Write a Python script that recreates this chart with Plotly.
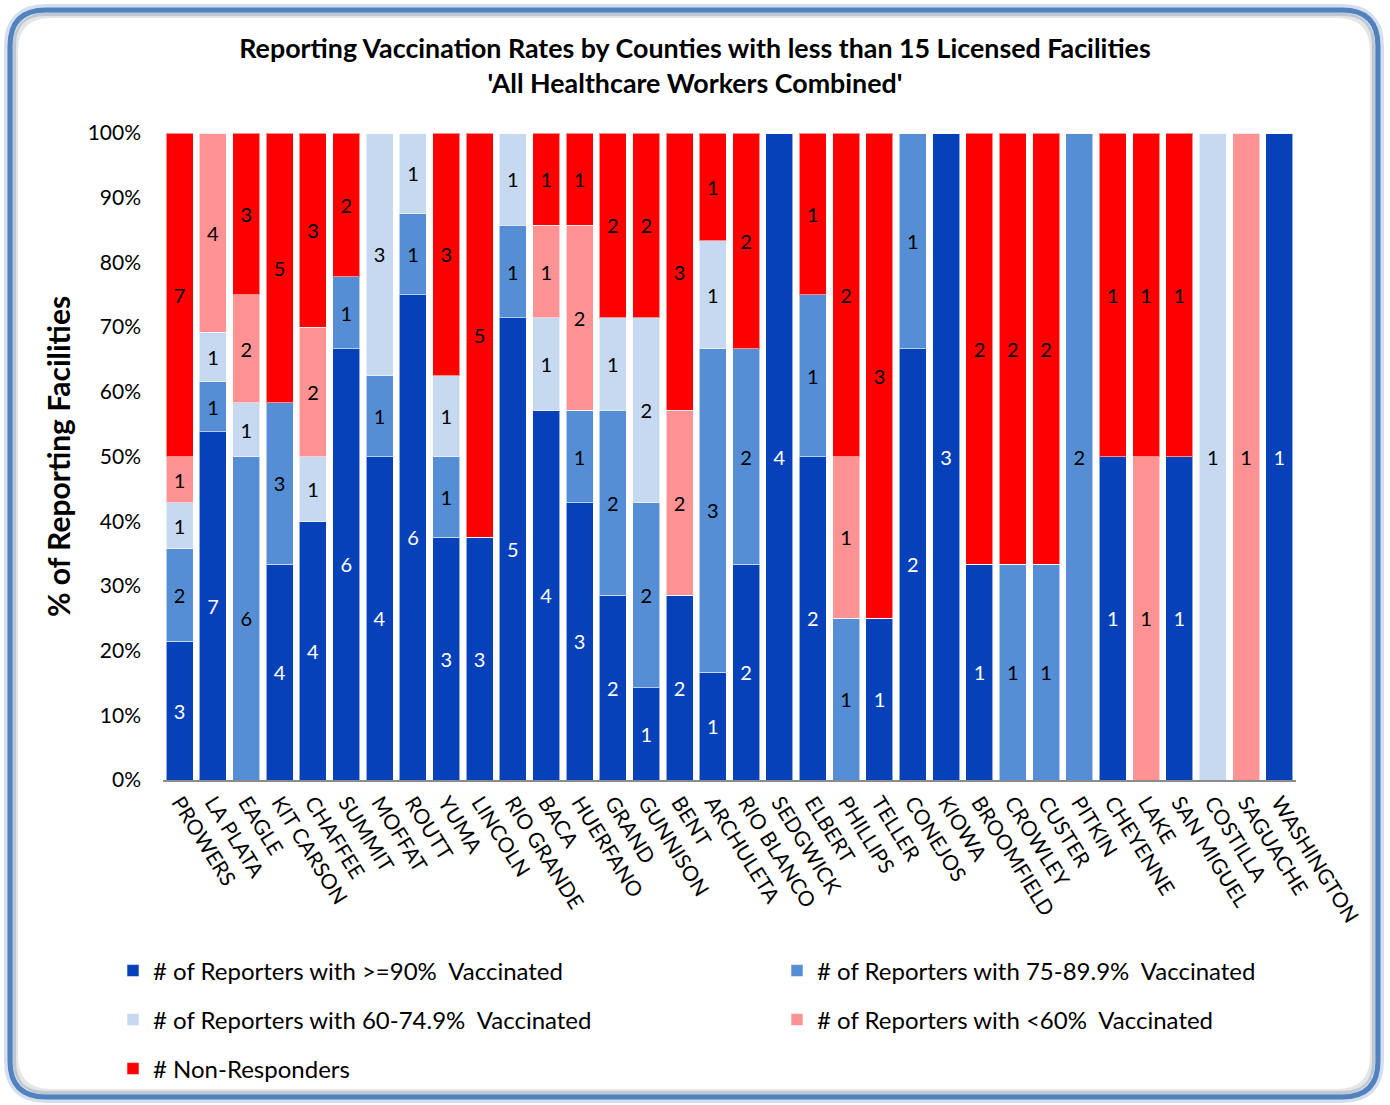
import plotly.graph_objects as go

counties = ["PROWERS", "LA PLATA", "EAGLE", "KIT CARSON", "CHAFFEE", "SUMMIT", "MOFFAT",
            "ROUTT", "YUMA", "LINCOLN", "RIO GRANDE", "BACA", "HUERFANO", "GRAND",
            "GUNNISON", "BENT", "ARCHULETA", "RIO BLANCO", "SEDGWICK", "ELBERT", "PHILLIPS",
            "TELLER", "CONEJOS", "KIOWA", "BROOMFIELD", "CROWLEY", "CUSTER", "PITKIN",
            "CHEYENNE", "LAKE", "SAN MIGUEL", "COSTILLA", "SAGUACHE", "WASHINGTON"]

ge90 = [3, 7, 0, 4, 4, 6, 4, 6, 3, 3, 5, 4, 3, 2, 1, 2, 1, 2, 4, 2, 0, 1, 2, 3, 1, 0, 0, 0, 1, 0, 1, 0, 0, 1]
r75 = [2, 1, 6, 3, 0, 1, 1, 1, 1, 0, 1, 0, 1, 2, 2, 0, 3, 2, 0, 1, 1, 0, 1, 0, 0, 1, 1, 2, 0, 0, 0, 0, 0, 0]
r60 = [1, 1, 1, 0, 1, 0, 3, 1, 1, 0, 1, 1, 0, 1, 2, 0, 1, 0, 0, 0, 0, 0, 0, 0, 0, 0, 0, 0, 0, 0, 0, 1, 0, 0]
lt60 = [1, 4, 2, 0, 2, 0, 0, 0, 0, 0, 0, 1, 2, 0, 0, 2, 0, 0, 0, 0, 1, 0, 0, 0, 0, 0, 0, 0, 0, 1, 0, 0, 1, 0]
nonresp = [7, 0, 3, 5, 3, 2, 0, 0, 3, 5, 0, 1, 1, 2, 2, 3, 1, 2, 0, 1, 2, 3, 0, 0, 2, 2, 2, 0, 1, 1, 1, 0, 0, 0]

series_names = ["# of Reporters with >=90%  Vaccinated",
                "# of Reporters with 75-89.9%  Vaccinated",
                "# of Reporters with 60-74.9%  Vaccinated",
                "# of Reporters with <60%  Vaccinated",
                "# Non-Responders"]
series_values = [ge90, r75, r60, lt60, nonresp]
colors = ["#0641BA", "#558ED5", "#C6D9F1", "#FF9393", "#FF0000"]
text_colors = ["white", "black", "black", "black", "black"]
legend_ids = ["legend", "legend2", "legend3", "legend4", "legend5"]

FONT = "Lato"
W, H = 1390, 1105
L, R, T, B = 163, 1296, 133, 780
pw, ph = R - L, B - T


def px(x):
    return (x - L) / pw


def py(y):
    return (B - y) / ph


fig = go.Figure()
for name, vals, col, tc, lg in zip(series_names, series_values, colors, text_colors, legend_ids):
    fig.add_trace(go.Bar(
        x=counties, y=vals, name=name,
        marker=dict(color=col, line=dict(color="rgba(255,255,255,0.55)", width=1)),
        text=[str(v) if v else "" for v in vals],
        textposition="inside", insidetextanchor="middle", textangle=0,
        constraintext="none",
        textfont=dict(family=FONT, size=20, color=tc),
        legend=lg, hoverinfo="x+y+name",
    ))

# rounded frame
x0, x1, y0, y1, r = 10, 1378, 10, 1097, 36


def frame_path(off=0):
    a0, a1, b0, b1 = x0 + off, x1 - off, y0 + off, y1 - off
    pts = [
        f"M {px(a0 + r)},{py(b0)}",
        f"L {px(a1 - r)},{py(b0)}",
        f"Q {px(a1)},{py(b0)} {px(a1)},{py(b0 + r)}",
        f"L {px(a1)},{py(b1 - r)}",
        f"Q {px(a1)},{py(b1)} {px(a1 - r)},{py(b1)}",
        f"L {px(a0 + r)},{py(b1)}",
        f"Q {px(a0)},{py(b1)} {px(a0)},{py(b1 - r)}",
        f"L {px(a0)},{py(b0 + r)}",
        f"Q {px(a0)},{py(b0)} {px(a0 + r)},{py(b0)}",
        "Z",
    ]
    return " ".join(pts)


shapes = [
    dict(type="path", xref="paper", yref="paper", path=frame_path(0), layer="below",
         line=dict(color="rgba(79,129,189,0.25)", width=12)),
    dict(type="path", xref="paper", yref="paper", path=frame_path(5), layer="below",
         line=dict(color="rgba(0,0,0,0.10)", width=6)),
    dict(type="path", xref="paper", yref="paper", path=frame_path(0), layer="below",
         line=dict(color="#5282BE", width=5)),
]

legend_common = dict(orientation="h", xanchor="left", yanchor="middle",
                     font=dict(family=FONT, size=24, color="black"),
                     bgcolor="rgba(0,0,0,0)", itemwidth=30, traceorder="normal")

col1, col2 = 113, 777
row1, row2, row3 = 971, 1020, 1069

fig.update_layout(
    width=W, height=H,
    margin=dict(l=L, r=W - R, t=T, b=H - B),
    paper_bgcolor="white", plot_bgcolor="white",
    barmode="stack", barnorm="percent", bargap=0.19,
    title=dict(
        text="Reporting Vaccination Rates by Counties with less than 15 Licensed Facilities<br>'All Healthcare Workers Combined'",
        x=0.5, xref="container", xanchor="center",
        y=1 - 58 / H, yref="container", yanchor="top",
        font=dict(family=FONT, size=26.8, color="black", weight="bold"),
    ),
    font=dict(family=FONT, color="black"),
    xaxis=dict(
        tickangle=58, tickfont=dict(family=FONT, size=21, color="black"),
        showline=True, linecolor="#8C8C8C", linewidth=2,
        showgrid=False, ticks="", automargin=False,
    ),
    yaxis=dict(
        range=[0, 100], dtick=10, ticksuffix="%", showgrid=False, zeroline=False,
        showline=False, ticks="", ticklabelstandoff=21,
        tickfont=dict(family=FONT, size=21, color="black"),
        title=dict(text="% of Reporting Facilities", standoff=8,
                   font=dict(family=FONT, size=30, color="black", weight="bold")),
        automargin=False,
    ),
    legend=dict(**legend_common, x=px(col1), y=py(row1)),
    legend2=dict(**legend_common, x=px(col2), y=py(row1)),
    legend3=dict(**legend_common, x=px(col1), y=py(row2)),
    legend4=dict(**legend_common, x=px(col2), y=py(row2)),
    legend5=dict(**legend_common, x=px(col1), y=py(row3)),
    shapes=shapes,
    showlegend=True,
)

fig.write_html("out.html",
               config={"displayModeBar": False},
               post_script="document.body.style.margin='0px';document.body.style.overflow='hidden';")
